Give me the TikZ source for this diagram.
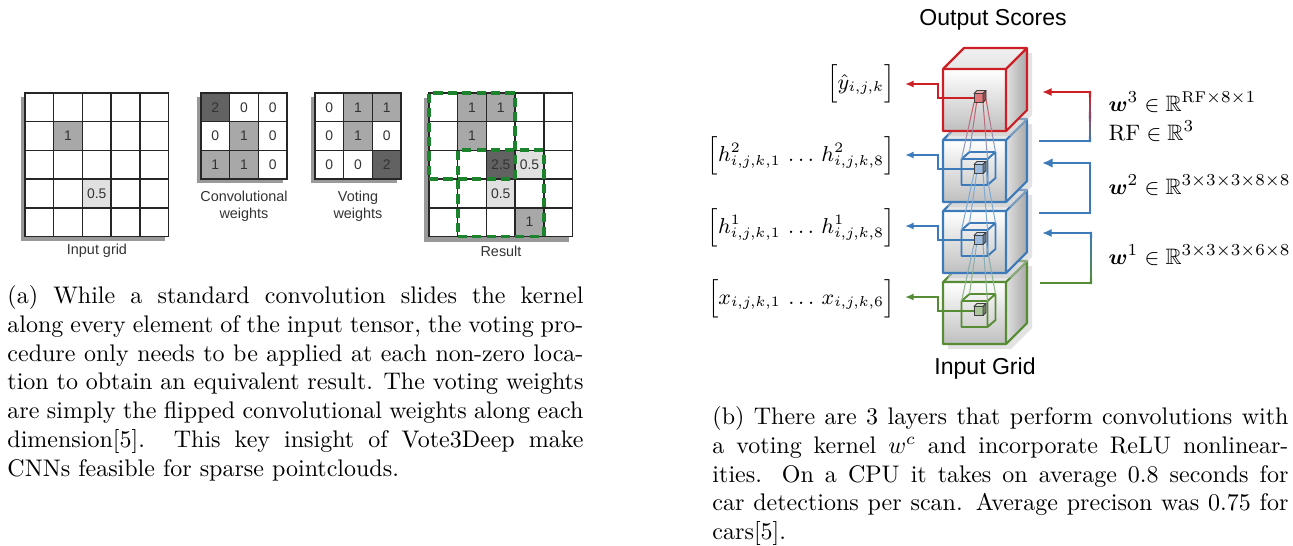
\documentclass[tikz,border=0pt]{standalone}
\usepackage{amsmath,amssymb}
\usepackage{fontspec}
\newfontfamily\helv{Liberation Sans}
\usetikzlibrary{arrows.meta,positioning,calc,fit}
\definecolor{layerred}{RGB}{205,32,38}
\definecolor{layerblue}{RGB}{60,122,186}
\definecolor{layergreen}{RGB}{86,140,52}
\definecolor{votegreen}{RGB}{28,132,44}
\definecolor{cellgray}{RGB}{168,168,168}
\definecolor{celldark}{RGB}{98,98,98}
\definecolor{celllight}{RGB}{224,224,224}
\colorlet{fanred}{layerred!80!white}
\colorlet{fanblue}{layerblue!65!white}
\colorlet{fangreen}{layergreen!65!white}
\colorlet{smallred}{layerred!60!white}
\colorlet{smallblue}{layerblue!50!white}
\colorlet{smallgreen}{layergreen!50!white}
\tikzset{cell/.style={rectangle, draw=black!85, line width=0.6pt, fill=white, minimum size=11.96pt, inner sep=0pt, outer sep=0pt, font=\helv\fontsize{5.8}{6.9}\selectfont, text=black!80}, gridlabel/.style={font=\helv\fontsize{6}{7.2}\selectfont, text=black!80, align=center, inner sep=0pt}, gridshadow/.style={fill=black!40}, votebox/.style={draw=votegreen, line width=1.6pt, dash pattern=on 3.8pt off 2.2pt, inner sep=0pt}, caption/.style={text width=240pt, align=justify, inner sep=0pt, anchor=north west}, stacklabel/.style={font=\helv\fontsize{9.6}{11.5}\selectfont}, mathlabel/.style={font=\fontsize{9.3}{11}\selectfont, inner sep=0pt}, outarrow/.style={line width=0.8pt, -{Latex[length=3.6pt,width=3pt]}}, backline/.style={line width=0.9pt, line cap=rect}, fanline/.style={line width=0.4pt, line cap=round}}
% one layer of the stack: #1 top of front face, #2 edge colour
\newcommand{\stackcube}[2]{%
  \fill[black!22, opacity=.5] (948,{#1+67}) -- (948,{#1+5}) -- (969,{#1-16}) -- (1032,{#1-16}) -- (1032,{#1+46}) -- (1011,{#1+67}) -- cycle;
  \shade[top color=black!6, bottom color=black!10] (943,#1) -- (964,{#1-21}) -- (1027,{#1-21}) -- (1006,#1) -- cycle;
  \shade[left color=black!12, right color=black!34] (1006,#1) -- (1027,{#1-21}) -- (1027,{#1+41}) -- (1006,{#1+62}) -- cycle;
  \shade[top color=white, bottom color=black!25] (943,#1) rectangle (1006,{#1+62});
  \draw[#2, line width=0.9pt, line join=round] (943,#1) rectangle (1006,{#1+62}) (943,#1) -- (964,{#1-21}) -- (1027,{#1-21}) -- (1027,{#1+41}) -- (1006,{#1+62}) (1006,#1) -- (1027,{#1-21});
}
% receptive field box round the small cube at (#1,#2)
\newcommand{\wirecube}[3]{%
  \draw[#3, line width=0.8pt, line join=round] ({#1-17},{#2-10}) rectangle ({#1+9},{#2+16}) ({#1-17},{#2-10}) -- ({#1-9},{#2-17}) -- ({#1+17},{#2-17}) -- ({#1+17},{#2+9}) -- ({#1+9},{#2+16}) ({#1+9},{#2-10}) -- ({#1+17},{#2-17});
}
\newcommand{\solidcube}[3]{%
  \filldraw[fill=#3, draw=black!75, line width=0.35pt, line join=round] ({#1-4.5},{#2-4.5}) rectangle ({#1+4.5},{#2+4.5});
  \filldraw[fill=#3!60!white, draw=black!75, line width=0.35pt, line join=round] ({#1-4.5},{#2-4.5}) -- ({#1-1.5},{#2-7.5}) -- ({#1+7.5},{#2-7.5}) -- ({#1+4.5},{#2-4.5}) -- cycle;
  \filldraw[fill=#3!65!black, draw=black!75, line width=0.35pt, line join=round] ({#1+4.5},{#2-4.5}) -- ({#1+7.5},{#2-7.5}) -- ({#1+7.5},{#2+1.5}) -- ({#1+4.5},{#2+4.5}) -- cycle;
}
% line whose colour runs from #3 to #4
\newcommand{\fadeline}[5]{%
  \foreach \k in {1,...,12}{%
    \pgfmathsetmacro\fadea{(\k-1)/12}%
    \pgfmathsetmacro\fadeb{\k/12}%
    \pgfmathsetmacro\fademix{100-(\k-0.5)*100/12}%
    \draw[#5, draw=#3!\fademix!#4] ($(#1)!\fadea!(#2)$) -- ($(#1)!\fadeb!(#2)$);
  }%
}
\newcommand{\fanlines}[4]{%
  \fadeline{974,{#1+4.5}}{961.5,{#2-10}}{#3}{#4}{fanline}
  \fadeline{983,{#1+4.5}}{987.5,{#2-10}}{#3}{#4}{fanline}
  \fadeline{977,{#1+1.5}}{969.5,{#2-17}}{#3}{#4}{fanline}
  \fadeline{986,{#1+1.5}}{995.5,{#2-17}}{#3}{#4}{fanline}
}
\begin{document}
\begin{tikzpicture}[x=0.41667pt, y=-0.41667pt]
\useasboundingbox (0,0) rectangle (1293,545);

% (a) input grid
\fill[gridshadow] (21,97) rectangle (164.5,240.5);
\foreach \r in {0,...,4}
  \foreach \c in {0,...,4}
    \node[cell] (in-\r-\c) at ({25+(\c+0.5)*28.7},{93+(\r+0.5)*28.7}) {};
\node[cell, fill=cellgray] (in-one) at (in-1-1) {1};
\node[cell, fill=celllight] (in-half) at (in-3-2) {0.5};
\node[gridlabel] (inlab) at (97,251) {Input grid};

% convolutional weights
\fill[gridshadow] (197,97) rectangle (283.1,183.1);
\foreach \r/\c/\shadecol/\v in {0/0/celldark/2, 0/1/white/0, 0/2/white/0, 1/0/white/0, 1/1/cellgray/1, 1/2/white/0, 2/0/cellgray/1, 2/1/cellgray/1, 2/2/white/0}
  \node[cell, fill=\shadecol] (cw-\r-\c) at ({201+(\c+0.5)*28.7},{93+(\r+0.5)*28.7}) {\v};
\node[gridlabel] (cwlab) at (244,206.5) {Convolutional\\weights};

% voting weights
\fill[gridshadow] (311,97) rectangle (397.1,183.1);
\foreach \r/\c/\shadecol/\v in {0/0/white/0, 0/1/cellgray/1, 0/2/cellgray/1, 1/0/white/0, 1/1/cellgray/1, 1/2/white/0, 2/0/white/0, 2/1/white/0, 2/2/celldark/2}
  \node[cell, fill=\shadecol] (vw-\r-\c) at ({315+(\c+0.5)*28.7},{93+(\r+0.5)*28.7}) {\v};
\node[gridlabel] (vwlab) at (358,206.5) {Voting\\weights};

% result
\fill[gridshadow] (424,98) rectangle (568.5,241.5);
\foreach \r in {0,...,4}
  \foreach \c in {0,...,4}
    \node[cell] (res-\r-\c) at ({429+(\c+0.5)*28.7},{93+(\r+0.5)*28.7}) {};
\foreach \r/\c/\shadecol/\v in {0/1/cellgray/1, 0/2/cellgray/1, 1/1/cellgray/1, 2/2/celldark/2.5, 2/3/celllight/0.5, 3/2/celllight/0.5, 4/3/cellgray/1}
  \node[cell, fill=\shadecol] (rv-\r-\c) at (res-\r-\c) {\v};
\node[votebox, fit=(res-0-0)(res-2-2)] (votea) {};
\node[votebox, fit=(res-2-1)(res-4-3)] (voteb) {};
\node[gridlabel] (reslab) at (501,251) {Result};

\node[caption] (capa) at (7,285) {\tolerance=9999\relax (a) While a standard convolution slides the kernel\linebreak along every element of the input tensor, the voting pro-\linebreak cedure only needs to be applied at each non-zero loca-\linebreak tion to obtain an equivalent result. The voting weights\linebreak are simply the flipped convolutional weights along each\linebreak dimension[5]. This key insight of Vote3Deep make\linebreak CNNs feasible for sparse pointclouds.};

% (b) layer stack
\stackcube{282}{layergreen}
\stackcube{211}{layerblue}
\stackcube{140}{layerblue}
\stackcube{69}{layerred}
\wirecube{978.5}{169}{layerblue}
\wirecube{978.5}{240}{layerblue}
\wirecube{978.5}{311}{layergreen}
\fanlines{98}{169}{fanred}{fanblue}
\fanlines{169}{240}{fanblue}{fanblue}
\fanlines{240}{311}{fanblue}{fangreen}
\solidcube{978.5}{98}{smallred}
\solidcube{978.5}{169}{smallblue}
\solidcube{978.5}{240}{smallblue}
\solidcube{978.5}{311}{smallgreen}

\foreach \lay/\yc/\col in {out/98/layerred, hb/169/layerblue, ha/240/layerblue, in/311/layergreen} {
  \coordinate (\lay-src) at (974,\yc);
  \coordinate (\lay-bend) at (938,{\yc-14});
  \coordinate (\lay-dst) at (905,{\yc-14});
  \draw[outarrow, \col] (\lay-src) -| (\lay-bend) -- (\lay-dst);
}

\node[mathlabel, font=\fontsize{8.9}{10.5}\selectfont, anchor=east] (ylab) at (895,84) {$\Bigl[\hat{y}_{i,j,k}\Bigr]$};
\node[mathlabel, font=\fontsize{8.9}{10.5}\selectfont, anchor=east] (h2lab) at (895,156) {$\Bigl[h^{2}_{i,j,k,1}\,\ldots\,h^{2}_{i,j,k,8}\Bigr]$};
\node[mathlabel, font=\fontsize{8.9}{10.5}\selectfont, anchor=east] (h1lab) at (895,228) {$\Bigl[h^{1}_{i,j,k,1}\,\ldots\,h^{1}_{i,j,k,8}\Bigr]$};
\node[mathlabel, font=\fontsize{8.9}{10.5}\selectfont, anchor=east] (xlab) at (895,299) {$\Bigl[x_{i,j,k,1}\,\ldots\,x_{i,j,k,6}\Bigr]$};

% weight feedback
\coordinate (w3-src) at (1040,141);
\coordinate (w3-c1) at (1090,141);
\coordinate (w3-c2) at (1090,92);
\coordinate (w3-dst) at (1042,92);
\draw[backline, layerblue] (w3-src) -- (w3-c1);
\fadeline{w3-c1}{w3-c2}{layerblue}{layerred}{backline}
\draw[backline, layerred, -{Latex[length=4pt,width=3.4pt]}] (w3-c2) -- (w3-dst);
\coordinate (w2-src) at (1040,213);
\coordinate (w2-c1) at (1090,213);
\coordinate (w2-c2) at (1090,163);
\coordinate (w2-dst) at (1042,163);
\draw[backline, layerblue, line width=1.2pt, -{Latex[length=4.4pt,width=4pt]}] (w2-src) -- (w2-c1) -- (w2-c2) -- (w2-dst);
\coordinate (w1-src) at (1041,283);
\coordinate (w1-c1) at (1091,283);
\coordinate (w1-c2) at (1091,233);
\coordinate (w1-dst) at (1042,233);
\draw[backline, layergreen] (w1-src) -- (w1-c1);
\fadeline{w1-c1}{w1-c2}{layergreen}{layerblue}{backline}
\draw[backline, layerblue, -{Latex[length=4pt,width=3.4pt]}] (w1-c2) -- (w1-dst);

\node[mathlabel, anchor=west] (w3lab) at (1108,102) {$\boldsymbol{w}^3 \in \mathbb{R}^{\mathrm{RF}\times 8\times 1}$};
\node[mathlabel, anchor=west] (rflab) at (1108,131) {$\mathrm{RF} \in \mathbb{R}^3$};
\node[mathlabel, anchor=west] (w2lab) at (1108,185) {$\boldsymbol{w}^2 \in \mathbb{R}^{3\times 3\times 3\times 8\times 8}$};
\node[mathlabel, anchor=west] (w1lab) at (1108,255) {$\boldsymbol{w}^1 \in \mathbb{R}^{3\times 3\times 3\times 6\times 8}$};

\node[stacklabel] (outlab) at (993,20) {Output Scores};
\node[stacklabel] (inglab) at (985,369) {Input Grid};

\node[caption] (capb) at (712,406) {\tolerance=9999\relax (b) There are 3 layers that perform convolutions with\linebreak a voting kernel $w^c$ and incorporate ReLU nonlinear-\linebreak ities. On a CPU it takes on average 0.8 seconds for\linebreak car detections per scan. Average precison was 0.75 for\linebreak cars[5].};
\end{tikzpicture}
\end{document}
